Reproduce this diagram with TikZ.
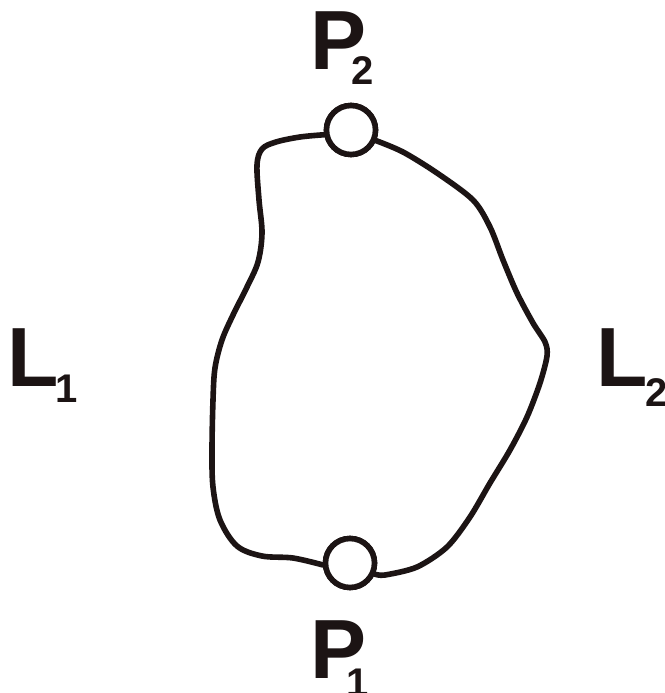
\documentclass[tikz,border=0pt]{standalone}
\usepackage{fontspec}
\setmainfont{Liberation Sans}
\definecolor{ink}{RGB}{28,20,20}
% main letter with a lowered subscript: #1 letter, #2 index, #3 kern, #4 drop
\newcommand{\lab}[4]{{\fontsize{84}{84}\selectfont\bfseries #1}\kern#3\raisebox{-#4}{\fontsize{40}{40}\selectfont\bfseries #2}}
\begin{document}
\begin{tikzpicture}[x=1pt,y=-1pt,
  wire/.style={draw=ink,line width=5.6pt,line join=round,line cap=round},
  port/.style={circle,draw=ink,fill=white,line width=5.6pt,minimum size=49pt,inner sep=0pt},
  tag/.style={anchor=base west,inner sep=0pt,outer sep=0pt,text=ink}]
\useasboundingbox (0,0) rectangle (664,693);
\fill[white] (0,0) rectangle (664,693);

% the two contacts
\node[port] (p2) at (351,130) {};
\node[port] (p1) at (350,563) {};

% left boundary, from P2 down to P1
\draw[wire] plot[smooth,tension=0.55] coordinates {
  (p2.190) (300,137) (276,142) (262,149) (257,165) (259,200) (262,233)
  (258,262) (247,287) (233,315) (222,340) (215,368) (213,400) (212,450)
  (213,487) (220,520) (237,546) (262,556) (293,558) (p1.184)};

% right boundary, from P1 back up to P2
\draw[wire] plot[smooth,tension=0.5] coordinates {
  (p1.-24) (385,575) (417,567) (447,547) (470,517) (490,483) (510,450)
  (527,417) (540,383) (547,356) (545,342) (533,323) (517,293) (503,260)
  (490,227) (473,200) (437,173) (403,152) (p2.-23)};

% redraw contacts above the boundary line
\node[port] at (p2) {};
\node[port] at (p1) {};

% labels
\node[tag] (lp2) at (310,70) {\lab{P}{2}{-15pt}{15pt}};
\node[tag] (lp1) at (310,678) {\lab{P}{1}{-20pt}{18pt}};
\node[tag] (ll1) at (7,386) {\lab{L}{1}{-3pt}{16pt}};
\node[tag] (ll2) at (596,386) {\lab{L}{2}{-2pt}{20pt}};
\end{tikzpicture}
\end{document}
